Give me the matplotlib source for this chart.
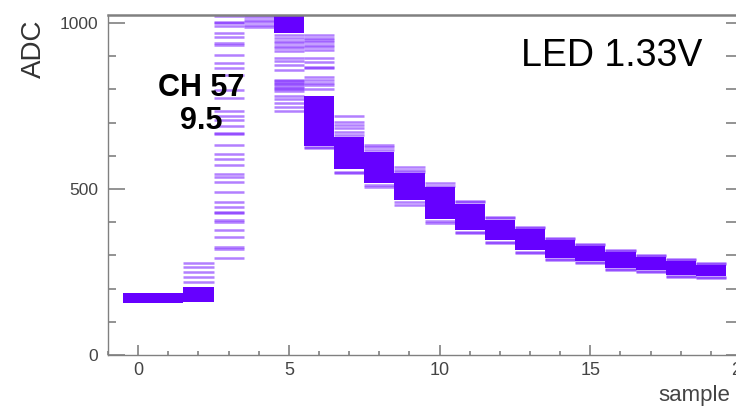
import matplotlib
matplotlib.use("Agg")
import matplotlib.pyplot as plt
import numpy as np

plt.rcParams['font.family'] = ['Liberation Sans', 'DejaVu Sans']

# ---- data ----
samples = list(range(20))
band_lo = [157, 157, 160, None, None, 970, 630, 560, 518, 467, 410, 375, 345, 315, 293, 283, 263, 256, 242, 238]
band_hi = [187, 187, 205, None, None, 1024, 780, 657, 611, 548, 505, 455, 408, 378, 345, 327, 309, 295, 283, 272]
extra_levels = [
    [],
    [],
    [220, 235, 250, 265, 277],
    [292, 319, 325, 355, 377, 400, 407, 428, 431, 446, 461, 491, 521, 535, 545,
     572, 590, 605, 633, 666, 669, 690, 708, 720, 735, 774, 798, 843, 864, 880,
     904, 934, 940, 958, 970, 991, 1000, 1003, 1020],
    [988, 995, 1003, 1010, 1017, 1023],
    [735, 747, 759, 770, 780, 795, 800, 805, 810, 815, 820, 825, 828, 858, 873,
     885, 895, 917, 925, 932, 940, 947, 955, 964],
    [623, 627, 800, 813, 819, 828, 837, 864, 867, 883, 895, 919, 927, 935, 943,
     949, 955, 964],
    [548, 552, 663, 672, 684, 693, 702, 720],
    [506, 512, 617, 625, 633],
    [452, 461, 551, 558, 566],
    [398, 404, 510, 518],
    [367, 371, 461, 465],
    [337, 341, 413, 416],
    [307, 311, 383, 386],
    [286, 290, 349, 352],
    [277, 280, 331, 334],
    [256, 260, 313, 316],
    [250, 253, 298, 301],
    [235, 239, 286, 289],
    [232, 235, 274, 277],
]
channel_label = "CH 57\n9.5"
led_label = "LED 1.33V"
x_ticks = [0, 5, 10, 15, 20]
y_ticks = [0, 500, 1000]

# ---- figure ----
W, H = 736, 407
fig = plt.figure(figsize=(W / 100, H / 100), dpi=100)
ax = fig.add_axes([108 / W, 52 / H, 633 / W, 340 / H])
ax.set_xlim(-1, 20)
ax.set_ylim(0, 1024)

purple = '#6600FF'
for s, lo, hi, lev in zip(samples, band_lo, band_hi, extra_levels):
    if lo is not None:
        ax.bar(s, hi - lo, bottom=lo, width=1.0, color=purple, alpha=1.0,
               linewidth=0)
    if lev:
        ax.hlines(lev, s - 0.5, s + 0.5, colors=purple, alpha=0.5, linewidth=1.8)

gray = '#808080'
for sp in ax.spines.values():
    sp.set_color(gray)
    sp.set_linewidth(1.0)
ax.spines['top'].set_linewidth(1.8)

ax.set_xticks(x_ticks)
ax.set_yticks(y_ticks)
ax.set_xticks(np.arange(-1, 21, 1), minor=True)
ax.set_yticks(np.arange(0, 1025, 100), minor=True)
ax.tick_params(axis='x', which='major', direction='in', length=7, width=1.2,
               color=gray, labelsize=13, labelcolor='#444444', pad=5)
ax.tick_params(axis='x', which='minor', direction='in', length=3, width=1.2, color=gray)
ax.tick_params(axis='y', which='major', direction='in', length=12, width=1.2,
               color=gray, labelsize=12.5, labelcolor='#444444', pad=7)
ax.tick_params(axis='y', which='minor', direction='in', length=6, width=1.2, color=gray)

sec = ax.secondary_yaxis('right')
sec.set_yticks(np.arange(0, 1025, 100))
sec.set_yticklabels([])
sec.tick_params(direction='in', length=11, width=1.2, color=gray)
sec.spines['right'].set_color(gray)

fig.text(21 / W, 1 - 20 / H, 'ADC', rotation=90, ha='left', va='top',
         fontsize=20, color='#333333')
fig.text(730 / W, 1 - 401 / H, 'sample', ha='right', va='baseline',
         fontsize=16, color='#444444')
fig.text(201 / W, 1 - 73 / H, channel_label, ha='center', va='top',
         fontsize=22, fontweight='bold', color='black', linespacing=1.15)
fig.text(702 / W, 1 - 38 / H, led_label, ha='right', va='top',
         fontsize=27, color='black')

fig.savefig('out.png', dpi=100)
